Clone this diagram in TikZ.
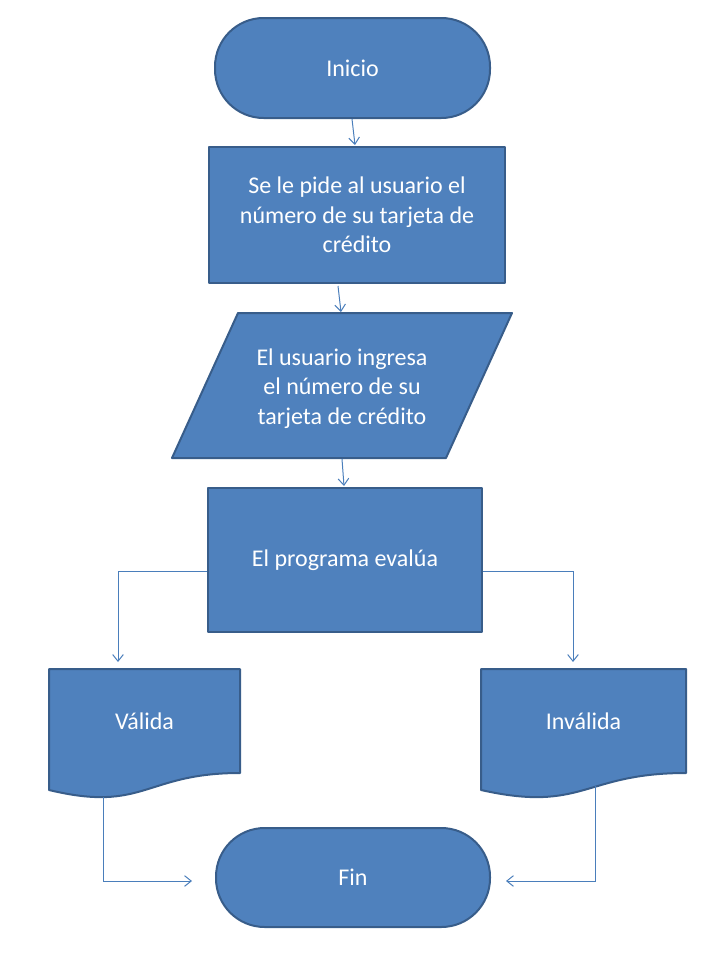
\documentclass[tikz,border=0pt]{standalone}
\usepackage{fontspec}
\setmainfont{Carlito}
\usetikzlibrary{calc,arrows.meta}
\definecolor{shfill}{HTML}{4F81BD}
\definecolor{shline}{HTML}{385D8A}
\definecolor{cnline}{HTML}{4A7EBB}
\begin{document}
\begin{tikzpicture}[x=0.75pt,y=-0.75pt,
  shp/.style={draw=shline,fill=shfill,line width=1.5pt,line join=round},
  txt/.style={text=white,font=\fontsize{18pt}{22pt}\selectfont,align=center},
  term/.style={shp,txt,rectangle,rounded corners=36.5pt,inner sep=0pt},
  proc/.style={shp,txt,rectangle,inner sep=0pt},
  ghost/.style={rectangle,inner sep=0pt,outer sep=0pt},
  conn/.style={draw=cnline,line width=0.75pt,-{Straight Barb[length=5pt,width=8pt]}}]
\useasboundingbox (0,0) rectangle (720,960);
% shapes
\node[term,minimum width=275*0.75pt,minimum height=100*0.75pt] (ini) at (352.5,68) {Inicio};
\node[proc,minimum width=296*0.75pt,minimum height=136*0.75pt] (ped) at (357,215)
  {Se le pide al usuario el\\número de su tarjeta de\\crédito};
\node[ghost,minimum width=274*0.75pt,minimum height=145*0.75pt] (inp) at (342,385.5) {};
\draw[shp] ($(inp.north west)+(33,0)$) -- ($(inp.north east)+(33,0)$)
  -- ($(inp.south east)+(-33,0)$) -- ($(inp.south west)+(-33,0)$) -- cycle;
\node[txt] (inpt) at (342,388.5) {El usuario ingresa\\el número de su\\tarjeta de crédito};
\node[proc,minimum width=274*0.75pt,minimum height=144*0.75pt] (pro) at (345,560) {El programa evalúa};
% documents
\node[ghost,minimum width=191*0.75pt,minimum height=130*0.75pt] (val) at (144.5,734) {};
\draw[shp] (val.north west) -- (val.north east) -- ($(val.north east)+(0,104)$)
  .. controls ($(val.north)+(0,104)$) and ($(val.north)+(0,144)$) .. ($(val.north west)+(0,121)$) -- cycle;
\node[txt] (valt) at (144.5,721) {Válida};
\node[ghost,minimum width=205*0.75pt,minimum height=130*0.75pt] (inv) at (583.5,734) {};
\draw[shp] (inv.north west) -- (inv.north east) -- ($(inv.north east)+(0,104)$)
  .. controls ($(inv.north)+(0,104)$) and ($(inv.north)+(0,144)$) .. ($(inv.north west)+(0,121)$) -- cycle;
\node[txt] (invt) at (583.5,721) {Inválida};
\node[term,minimum width=274*0.75pt,minimum height=99*0.75pt] (fin) at (353,877.5) {Fin};
% connectors
\draw[conn] ($(ini.south)+(-0.5,0)$) -- ($(ped.north)+(-2,-1)$);
\draw[conn] ($(ped.south)+(-19,2)$) -- ($(inp.north)+(-1,-1)$);
\draw[conn] ($(inp.south)+(0,1)$) -- ($(pro.north)+(-1,-1)$);
\draw[conn] ($(pro.west)+(0,11)$) -| ($(val.north)+(-26.5,-7)$);
\draw[conn] ($(pro.east)+(0,11)$) -| ($(inv.north)+(-10.5,-7)$);
\draw[conn] ($(val.south)+(-41.5,-2)$) |- ($(fin.west)+(-23,3.5)$);
\draw[conn] ($(inv.south)+(11.5,-13)$) |- ($(fin.east)+(15,3.5)$);
\end{tikzpicture}
\end{document}
